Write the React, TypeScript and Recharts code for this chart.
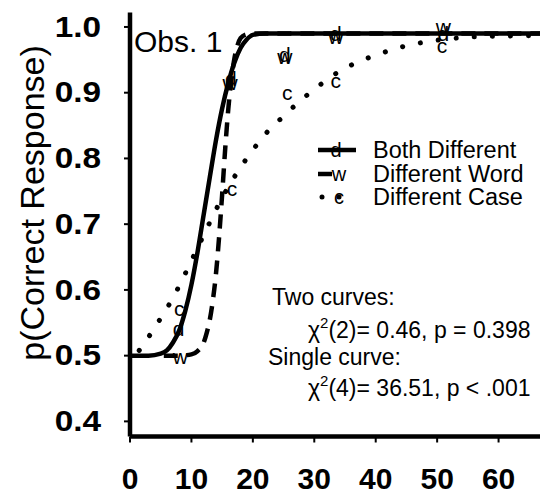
import React from "react";
import { ComposedChart, Line, Scatter, XAxis, YAxis } from "recharts";

// fitted curves
const bothCurveX = [0, 3, 5, 6, 7, 8, 9, 10, 11, 12, 13, 14, 15, 16, 17, 18, 19, 20, 22, 70];
const bothCurveY = [0.5, 0.5, 0.503, 0.508, 0.52, 0.538, 0.568, 0.608, 0.658, 0.715, 0.772, 0.828, 0.876, 0.915, 0.946, 0.968, 0.981, 0.988, 0.99, 0.99];

const wordCurveX = [5.5, 8, 10, 11, 12, 12.5, 13, 13.5, 14, 14.5, 15, 15.5, 16, 16.5, 17, 17.5, 18, 19, 20, 70];
const wordCurveY = [0.5, 0.5, 0.502, 0.507, 0.52, 0.535, 0.555, 0.585, 0.625, 0.68, 0.745, 0.815, 0.875, 0.92, 0.952, 0.972, 0.983, 0.989, 0.99, 0.99];

const caseCurveX = [1.5, 3, 5, 7, 9, 11, 13, 15, 17, 19, 21, 23, 25, 27, 30, 33, 36, 40, 44, 48, 52, 56, 60, 70];
const caseCurveY = [0.508, 0.528, 0.557, 0.588, 0.625, 0.664, 0.703, 0.74, 0.772, 0.8, 0.825, 0.847, 0.864, 0.882, 0.905, 0.926, 0.942, 0.957, 0.969, 0.977, 0.982, 0.985, 0.986, 0.987];

// observed points (letters)
const dX = [7.9, 16.4, 25.2, 33.5, 51];
const dY = [0.542, 0.922, 0.958, 0.99, 0.99];
const wX = [8.2, 16.3, 25.2, 33.5, 51];
const wY = [0.498, 0.915, 0.955, 0.985, 1.0];
const cX = [8.0, 16.6, 25.6, 33.5, 50.8];
const cY = [0.571, 0.755, 0.9, 0.919, 0.972];

const xTicks = [0, 10, 20, 30, 40, 50, 60];
const yTicks = [0.4, 0.5, 0.6, 0.7, 0.8, 0.9, 1.0];

const zip = (xs: number[], ys: number[]) => xs.map((x, i) => ({ x, y: ys[i] }));

const FONT = "'Liberation Sans', Arial, sans-serif";

const letter = (ch: string) => (p: any) => (
  <text
    x={p.cx}
    y={p.cy}
    textAnchor="middle"
    dominantBaseline="central"
    fontSize={21}
    fontFamily={FONT}
    fill="#000"
    style={{ fill: "#000" }}
  >
    {ch}
  </text>
);

// y tick labels: right-aligned left of the frame, a bit wide like the original
const YTick = (p: any) => (
  <text
    transform={`translate(101,${p.y}) scale(1.15,1)`}
    x={0}
    y={0}
    textAnchor="end"
    dominantBaseline="central"
    fontSize={29}
    fontWeight="bold"
    fontFamily={FONT}
    fill="#000"
  >
    {Number(p.payload.value).toFixed(1)}
  </text>
);

const App = () => {
  const frame = { stroke: "#000", strokeWidth: 4.5 };
  const tickLn = { stroke: "#000", strokeWidth: 2 };
  const txt = { fontFamily: FONT, fill: "#000" };
  return (
    <div
      style={{
        position: "absolute",
        left: 0,
        top: 0,
        width: 540,
        height: 498,
        overflow: "hidden",
        background: "#fff",
      }}
    >
      <ComposedChart
        width={580}
        height={498}
        margin={{ top: 12.5, right: 20, left: 0, bottom: 0 }}
      >
        <XAxis
          dataKey="x"
          type="number"
          domain={[0, 70]}
          ticks={xTicks}
          height={61.5}
          axisLine={frame}
          tickLine={tickLn}
          tickSize={6}
          tickMargin={25}
          tick={{ fontSize: 30, fontWeight: "bold", ...txt }}
          allowDataOverflow
        />
        <XAxis
          xAxisId="top"
          orientation="top"
          type="number"
          domain={[0, 70]}
          height={0}
          tick={false}
          tickLine={false}
          axisLine={frame}
        />
        <YAxis
          type="number"
          domain={[0.377, 1.022]}
          ticks={yTicks}
          width={130}
          axisLine={frame}
          tickLine={tickLn}
          tickSize={6}
          tick={YTick}
          allowDataOverflow
        />
        <Line
          data={zip(caseCurveX, caseCurveY)}
          dataKey="y"
          type="monotone"
          stroke="#000"
          strokeWidth={5}
          strokeDasharray="0.1 18"
          strokeLinecap="round"
          dot={false}
          isAnimationActive={false}
        />
        <Line
          data={zip(wordCurveX, wordCurveY)}
          dataKey="y"
          type="monotone"
          stroke="#000"
          strokeWidth={4.5}
          strokeDasharray="14 9"
          dot={false}
          isAnimationActive={false}
        />
        <Line
          data={zip(bothCurveX, bothCurveY)}
          dataKey="y"
          type="monotone"
          stroke="#000"
          strokeWidth={4.5}
          dot={false}
          isAnimationActive={false}
        />
        <Scatter data={zip(cX, cY)} dataKey="y" fill="#000" shape={letter("c")} isAnimationActive={false} />
        <Scatter data={zip(wX, wY)} dataKey="y" fill="#000" shape={letter("w")} isAnimationActive={false} />
        <Scatter data={zip(dX, dY)} dataKey="y" fill="#000" shape={letter("d")} isAnimationActive={false} />
      </ComposedChart>

      <svg
        width={540}
        height={498}
        style={{ position: "absolute", left: 0, top: 0, pointerEvents: "none" }}
      >
        <text
          transform="translate(44,203) rotate(-90)"
          textAnchor="middle"
          fontSize={34}
          {...txt}
        >
          p(Correct Response)
        </text>
        <text x={134} y={52} fontSize={30} {...txt}>
          Obs. 1
        </text>

        {/* legend */}
        <line x1={318} y1={150} x2={356} y2={150} stroke="#000" strokeWidth={4.5} />
        <text x={336} y={150} textAnchor="middle" dominantBaseline="central" fontSize={20} {...txt}>d</text>
        <line x1={318} y1={174} x2={332} y2={174} stroke="#000" strokeWidth={4.5} />
        <text x={339} y={174} textAnchor="middle" dominantBaseline="central" fontSize={20} {...txt}>w</text>
        <circle cx={322} cy={197} r={2.5} fill="#000" />
        <circle cx={339} cy={197} r={2.5} fill="#000" />
        <text x={339} y={197} textAnchor="middle" dominantBaseline="central" fontSize={20} {...txt}>c</text>
        <text x={373} y={158} fontSize={23.5} {...txt}>Both Different</text>
        <text x={373} y={182} fontSize={23.5} {...txt}>Different Word</text>
        <text x={373} y={205} fontSize={23.5} {...txt}>Different Case</text>

        {/* fit statistics */}
        <text x={272} y={305} fontSize={23} {...txt}>Two curves:</text>
        <text x={308} y={338} fontSize={23} {...txt}>
          χ<tspan fontSize={15} dy={-10}>2</tspan>
          <tspan dy={10}>(2)= 0.46, p = 0.398</tspan>
        </text>
        <text x={268} y={365} fontSize={23} {...txt}>Single curve:</text>
        <text x={308} y={396} fontSize={23} {...txt}>
          χ<tspan fontSize={15} dy={-10}>2</tspan>
          <tspan dy={10}>(4)= 36.51, p &lt; .001</tspan>
        </text>
      </svg>
    </div>
  );
};

export default App;
